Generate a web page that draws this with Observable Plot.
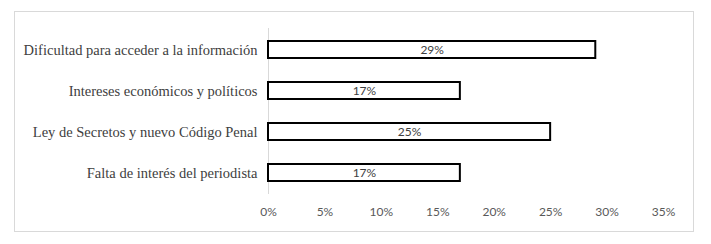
<!DOCTYPE html>
<html><head><meta charset="utf-8">
<script src="https://cdn.jsdelivr.net/npm/d3@7"></script>
<script src="https://cdn.jsdelivr.net/npm/@observablehq/plot@0.6"></script>
<style>
body{margin:0;background:#fff;}
#wrap{position:relative;width:711px;height:244px;}
#border{position:absolute;left:14px;top:11px;width:678px;height:219px;border:1px solid #d9d9d9;pointer-events:none;}
</style>
</head><body>
<div id="wrap"><div id="border"></div></div>
<script>
const categories = ["Dificultad para acceder a la información","Intereses económicos y políticos","Ley de Secretos y nuevo Código Penal","Falta de interés del periodista"];
const values = [29, 17, 25, 17];
const xTicks = [0,5,10,15,20,25,30,35];
const data = categories.map((c,i)=>({cat:c, v:values[i]}));

const chart = Plot.plot({
  width: 711, height: 244,
  marginLeft: 268, marginRight: 48, marginTop: 28, marginBottom: 50,
  style: {background: "transparent"},
  x: {domain: [0,35], axis: null, label: null},
  y: {domain: categories, paddingInner: 0.59, paddingOuter: 0.295, axis: null, label: null},
  marks: [
    Plot.ruleX([0], {stroke: "#d9d9d9", strokeWidth: 1}),
    Plot.barX(data, {x: "v", y: "cat", fill: "white", stroke: "black", strokeWidth: 2}),
    Plot.text(data, {x: d => d.v/2, y: "cat", text: d => d.v + "%", fill: "#404040", fontSize: 12, fontFamily: "Lato"}),
    Plot.axisX({ticks: xTicks, tickFormat: d => d + "%", tickSize: 0, tickPadding: 0, dy: 13, fontSize: 12, fontFamily: "Lato", fill: "#595959", label: null}),
    Plot.axisY({tickSize: 0, tickPadding: 11, fontSize: 14.5, fontFamily: "Liberation Serif", fill: "#404040", label: null})
  ]
});
document.getElementById("wrap").appendChild(chart);
chart.style.position = "absolute"; chart.style.left = "0"; chart.style.top = "0";
</script>
</body></html>
